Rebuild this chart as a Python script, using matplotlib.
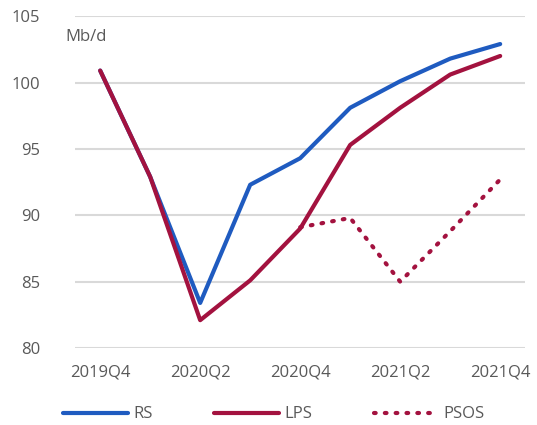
import matplotlib.pyplot as plt

# quarters shown on the x axis (labels only every other one)
quarters = ['2019Q4', '2020Q1', '2020Q2', '2020Q3', '2020Q4',
            '2021Q1', '2021Q2', '2021Q3', '2021Q4']

# oil demand scenarios, Mb/d
rs = [100.9, 92.9, 83.4, 92.3, 94.3, 98.1, 100.1, 101.8, 102.9]
lps = [100.9, 92.9, 82.1, 85.1, 89.0, 95.3, 98.1, 100.6, 102.0]
psos_quarters = ['2020Q4', '2021Q1', '2021Q2', '2021Q3', '2021Q4']
psos = [89.1, 89.8, 85.0, 88.8, 92.7]

blue = '#1F5BC0'
red = '#A3123F'
grey = '#595959'

plt.rcParams['font.family'] = ['Open Sans', 'DejaVu Sans']

fig = plt.figure(figsize=(5.37, 4.25), dpi=100)
ax = fig.add_axes([0.140, 0.181, 0.838, 0.781])

xi = list(range(len(quarters)))
ps_x = [quarters.index(q) for q in psos_quarters]

ax.plot(xi, rs, color=blue, lw=3, label='RS', solid_capstyle='round')
ax.plot(xi, lps, color=red, lw=3, label='LPS', solid_capstyle='round')
ax.plot(ps_x, psos, color=red, lw=3, ls=(0, (0.4, 2.2)),
        dash_capstyle='round', label='PSOS')

ax.set_xlim(-0.5, len(quarters) - 0.5)
ax.set_ylim(80, 105)
ax.set_yticks(range(80, 106, 5))
ax.set_xticks(xi[::2])
ax.set_xticklabels(quarters[::2])
ax.grid(axis='y', color='#D9D9D9', lw=1.5)
ax.set_axisbelow(True)
for s in ax.spines.values():
    s.set_visible(False)
ax.tick_params(length=0, labelsize=12, labelcolor=grey)
ax.tick_params(axis='y', pad=25)
ax.tick_params(axis='x', pad=12)

fig.text(0.121, 0.913, 'Mb/d', fontsize=12, color=grey, ha='left', va='center')

leg = fig.legend(loc='center', bbox_to_anchor=(0.51, 0.025), ncol=3, frameon=False,
                 fontsize=12, handlelength=3.9, handletextpad=0.3,
                 columnspacing=3.7, labelcolor=grey)

fig.savefig('out.png', dpi=100, facecolor='white')
